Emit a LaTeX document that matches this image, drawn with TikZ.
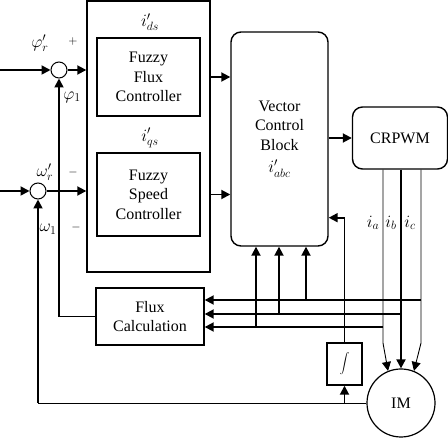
\documentclass[tikz,border=0pt]{standalone}
\usepackage{fontspec}
\setmainfont{Liberation Serif}
\usepackage{tikz}
\usetikzlibrary{arrows.meta,positioning,calc}
\tikzset{
  blk/.style={rectangle, draw=black, line width=1.4pt, align=center, inner sep=0pt, font=\fontsize{16}{19.5}\selectfont},
  rblk/.style={blk, rounded corners=10pt},
  sumj/.style={circle, draw=black, line width=1pt, minimum size=16pt, inner sep=0pt},
  sig/.style={line width=1.8pt, draw=black},
  arr/.style={sig, -{Triangle[length=9pt,width=9pt]}},
  thinsig/.style={line width=0.9pt, draw=black},
  thinarr/.style={thinsig, -{Triangle[length=9pt,width=9pt]}},
  lbl/.style={inner sep=0pt, font=\fontsize{17}{20}\selectfont},
  sgn/.style={inner sep=0pt, font=\fontsize{12}{14}\selectfont}
}

\begin{document}
\begin{tikzpicture}[x=1pt,y=1pt]
  \useasboundingbox (0,0) rectangle (448,439);
  % controllers
  \node[blk, minimum width=123pt, minimum height=271pt] (ctrl) at (148.5,302.5) {};
  \node[blk, minimum width=103pt, minimum height=78pt] (ffc) at (148.5,362) {Fuzzy\\Flux\\Controller};
  \node[blk, minimum width=103pt, minimum height=83pt] (fsc) at (148.5,244.5) {Fuzzy\\Speed\\Controller};
  \node[lbl] (ids) at (150,417) {$i'_{ds}$};
  \node[lbl] (iqs) at (150,301) {$i'_{qs}$};
  % other blocks
  \node[rblk, minimum width=97pt, minimum height=214pt] (vcb) at (279.5,300) {Vector\\Control\\Block\\[3pt]\fontsize{17}{20}\selectfont$i'_{abc}$};
  \node[rblk, minimum width=95pt, minimum height=62pt] (pwm) at (400,301) {CRPWM};
  \node[blk, minimum width=108pt, minimum height=57pt] (flux) at (150,122.5) {Flux\\Calculation};
  \node[blk, minimum width=35pt, minimum height=42pt] (integ) at (344.5,75) {$\displaystyle\int$};
  \node[circle, draw=black, line width=1.2pt, minimum size=68pt, inner sep=0pt, font=\fontsize{16}{18}\selectfont] (im) at (401,36) {IM};
  % summing points
  \node[sumj] (s1) at (59,369) {};
  \node[sumj] (s2) at (38,248) {};
  \node[lbl] (phiref) at (40,396) {$\varphi'_r$};
  \node[sgn] (p1) at (73,397) {$+$};
  \node[lbl] (phifb) at (72,342) {$\varphi_1$};
  \node[lbl] (wref) at (45,267) {$\omega'_r$};
  \node[sgn] (m1) at (73,266) {$-$};
  \node[lbl] (wfb) at (48,210) {$\omega_1$};
  \node[sgn] (m2) at (76,211) {$-$};
  \node[lbl] (ia) at (373,216) {$i_a$};
  \node[lbl] (ib) at (391,216) {$i_b$};
  \node[lbl] (ic) at (410,216) {$i_c$};
  % free ends and bends
  \coordinate (phin) at (0,369);
  \coordinate (win) at (0,248);
  \coordinate (ka) at (383,96);
  \coordinate (kc) at (421,96);
  \coordinate (ta) at (256,112);
  \coordinate (tb) at (279,125);
  \coordinate (tc) at (306,139);
  \coordinate (vin) at ($(vcb.south east)+(0,29)$);
  % forward path
  \draw[arr] (phin) -- (s1.west);
  \draw[arr] (win) -- (s2.west);
  \draw[arr] (s1.east) -- (s1.east -| ctrl.west);
  \draw[arr] (s2.east) -- (s2.east -| ctrl.west);
  \draw[arr] (ctrl.east |- ffc) -- (vcb.west |- ffc);
  \draw[arr] (ctrl.east |- fsc) -- (vcb.west |- fsc);
  \draw[arr] (vcb.east |- pwm) -- (pwm.west);
  \draw[thinarr] (pwm.south -| ka) -- (ka) -- (im.112);
  \draw[arr] (pwm.south -| im) -- (im.north);
  \draw[thinarr] (pwm.south -| kc) -- (kc) -- (im.68);
  % current feedback
  \draw[arr] (ka |- ta) -- (flux.east |- ta);
  \draw[arr] (im |- tb) -- (flux.east |- tb);
  \draw[arr] (kc |- tc) -- (flux.east |- tc);
  \draw[arr] (ta) -- (ta |- vcb.south);
  \draw[arr] (tb) -- (tb |- vcb.south);
  \draw[arr] (tc) -- (tc |- vcb.south);
  % flux and speed feedback
  \draw[arr] (flux.west) -| (s1.south);
  \draw[thinsig] (im.west) -- (s2 |- im.west);
  \draw[arr] (s2 |- im.west) -- (s2.south);
  \draw[arr] (integ |- im.west) -- (integ.south);
  \draw[arr] (integ.north) |- (vin);
\end{tikzpicture}
\end{document}
